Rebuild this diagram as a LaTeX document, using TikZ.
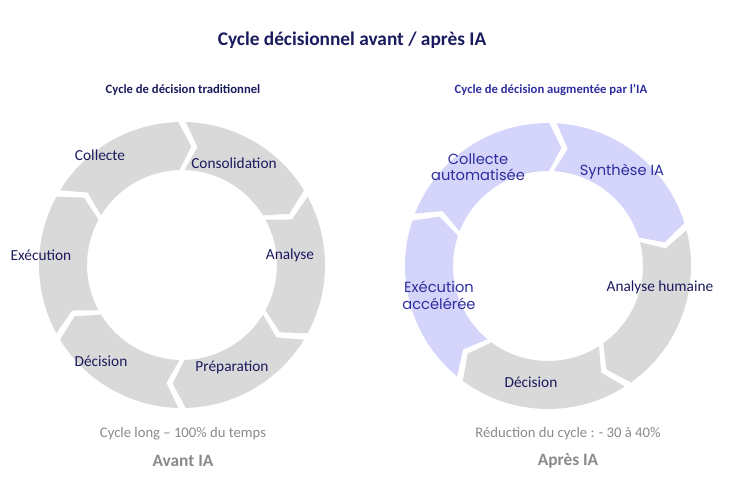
\documentclass[tikz,border=0pt]{standalone}
\usepackage{fontspec}
\setmainfont{Carlito}
\newfontfamily\popfont{Poppins}
\usepackage{tikz}
\definecolor{navy}{HTML}{1A1A5E}
\definecolor{violet}{HTML}{2E2E9E}
\definecolor{segGrey}{HTML}{D9D9D9}
\definecolor{segLav}{HTML}{D5D5FB}
\definecolor{footGrey}{HTML}{8A8A8A}
\tikzset{
  lbl/.style={text=navy, font=\fontsize{11.5}{13}\selectfont, align=center},
  ialbl/.style={text=violet, font=\popfont\fontsize{11}{12.5}\selectfont, align=center},
  foot/.style={text=footGrey, font=\fontsize{11}{13}\selectfont},
  tag/.style={text=footGrey, font=\bfseries\fontsize{13}{15}\selectfont}
}
\begin{document}
\begin{tikzpicture}[x=0.75pt,y=0.75pt]
				\useasboundingbox (0,0) rectangle (732,497);
				% left ring: six grey chevrons
				\foreach \a in {90,30,-30,-90,-150,150}
				  \fill [segGrey, shift={(182,232)}] (\a-1.5:143) arc[start angle=\a-1.5, end angle=\a-58.5, radius=143]
				    -- (\a-64.5:119) -- (\a-58.5:95) arc[start angle=\a-58.5, end angle=\a-1.5, radius=95] -- (\a-7.5:119) -- cycle;
				% right ring: five chevrons, three of them lavender
				\foreach \a/\c in {88/segLav,16/segGrey,-56/segGrey,-128/segLav,160/segLav}
				  \fill [\c, shift={(548,231)}] (\a-1.5:143) arc[start angle=\a-1.5, end angle=\a-70.5, radius=143]
				    -- (\a-76.5:119) -- (\a-70.5:95) arc[start angle=\a-70.5, end angle=\a-1.5, radius=95] -- (\a-7.5:119) -- cycle;
				\node (title) at (352,457) [text=navy, font=\bfseries\fontsize{14.5}{17}\selectfont] {Cycle décisionnel avant / après IA};
				\node (subL) at (183,407) [text=navy, font=\bfseries\fontsize{9.5}{11}\selectfont] {Cycle de décision traditionnel};
				\node (subR) at (551,407) [text=violet, font=\bfseries\fontsize{9.5}{11}\selectfont] {Cycle de décision augmentée par l’IA};
				\node (collecte) at (100,342) [lbl] {Collecte};
				\node (consol) at (234,334) [lbl] {Consolidation};
				\node (analyse) at (290,242) [lbl] {Analyse};
				\node (prepa) at (232,130) [lbl] {Préparation};
				\node (decision) at (101,136) [lbl] {Décision};
				\node (exec) at (41,242) [lbl] {Exécution};
				\node (collecteIA) at (478,330) [ialbl] {Collecte\\automatisée};
				\node (synthese) at (622,325) [ialbl] {Synthèse IA};
				\node (analyseH) at (660,210) [lbl] {Analyse humaine};
				\node (decisionR) at (531,115) [lbl] {Décision};
				\node (execIA) at (439,202) [ialbl] {Exécution\\accélérée};
				\node (footL) at (183,63) [foot] {Cycle long – 100\% du temps};
				\node (avant) at (183,36) [tag] {Avant IA};
				\node (footR) at (568,63) [foot] {Réduction du cycle : - 30 à 40\%};
				\node (apres) at (568,36) [tag] {Après IA};
				\end{tikzpicture}
\end{document}
